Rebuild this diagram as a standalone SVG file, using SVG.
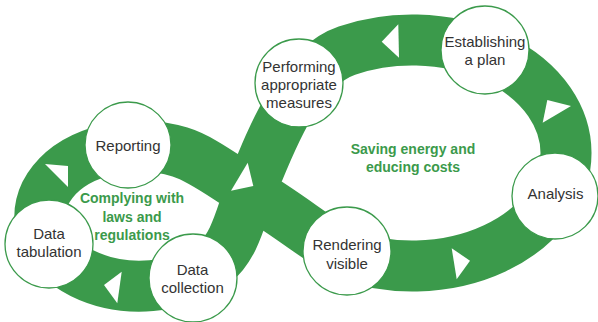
<svg xmlns="http://www.w3.org/2000/svg" width="598" height="322" viewBox="0 0 598 322">
<style>
.band{fill:none;stroke:#3b9a4b;stroke-width:51;stroke-linejoin:round}
.arrow{fill:#ffffff}
.node circle{fill:#ffffff;stroke:#3b9a4b;stroke-width:1.3}
.node text{font-family:"Liberation Sans",Arial,sans-serif;font-size:15px;fill:#333333;text-anchor:middle}
.theme{font-family:"Liberation Sans",Arial,sans-serif;font-size:14px;font-weight:bold;fill:#3b9a4b;text-anchor:middle}
</style>
<rect width="598" height="322" fill="#ffffff"/>
<g id="connectors">
<path class="band" d="M 250,192 C 270,142 298,67.3 346.9,50.6 A 154 113 0 1 1 346.9,255.4 C 325,245 285,212 250,192 C 229,180 203,159 180,152 A 100 70 0 1 0 215,262.3 C 235,246 241,215 250,192 Z"/>
<polygon class="arrow" points="45,164 68,166 68,187"/>
<polygon class="arrow" points="121.7,271.7 104,285 117.3,303.3"/>
<polygon class="arrow" points="247.7,162.7 231,190.7 253.3,186"/>
<polygon class="arrow" points="398.3,24.3 381.7,41.7 399,57.7"/>
<polygon class="arrow" points="547.3,100 571,106 542.7,122.7"/>
<polygon class="arrow" points="451.7,248.3 470,260.7 456.7,279.3"/>
</g>
<text class="theme" x="132" y="203">Complying with</text>
<text class="theme" x="132" y="221.5">laws and</text>
<text class="theme" x="132" y="239.5">regulations</text>
<text class="theme" x="413" y="154">Saving energy and</text>
<text class="theme" x="413" y="172">educing costs</text>
<g id="node-reporting" class="node"><circle cx="128" cy="145" r="43"/><text x="128" y="151">Reporting</text></g>
<g id="node-data-tabulation" class="node"><circle cx="49" cy="244" r="44"/><text x="49" y="238.5">Data</text><text x="49" y="256.5">tabulation</text></g>
<g id="node-data-collection" class="node"><circle cx="193" cy="278" r="44"/><text x="192.5" y="274.5">Data</text><text x="192.5" y="292.5">collection</text></g>
<g id="node-performing" class="node"><circle cx="299" cy="83" r="44"/><text x="299" y="72">Performing</text><text x="299" y="90">appropriate</text><text x="299" y="108">measures</text></g>
<g id="node-establishing" class="node"><circle cx="485" cy="50" r="44"/><text x="485" y="47">Establishing</text><text x="485" y="65">a plan</text></g>
<g id="node-analysis" class="node"><circle cx="555" cy="196" r="43"/><text x="555.5" y="198.5">Analysis</text></g>
<g id="node-rendering" class="node"><circle cx="347" cy="251" r="44"/><text x="347" y="250">Rendering</text><text x="347" y="268.5">visible</text></g>
</svg>
